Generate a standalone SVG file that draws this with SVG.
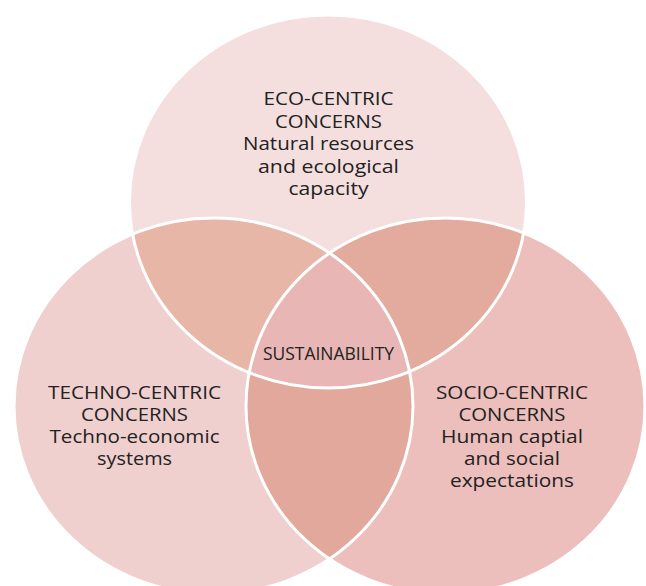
<svg xmlns="http://www.w3.org/2000/svg" width="646" height="586" viewBox="0 0 646 586">
<style>
.lbl{font-family:"Open Sans","Liberation Sans",sans-serif;font-size:19px;fill:#222222;text-anchor:middle}
.edge{fill:none;stroke:#ffffff;stroke-width:3}
</style>
<defs>
<ellipse id="eT" cx="328" cy="201.5" rx="198.5" ry="186.5"/>
<ellipse id="eL" cx="213.5" cy="406" rx="199.5" ry="188"/>
<ellipse id="eR" cx="445.5" cy="406" rx="199.5" ry="188"/>
<clipPath id="cT"><use href="#eT"/></clipPath>
<clipPath id="cL"><use href="#eL"/></clipPath>
</defs>
<rect width="646" height="586" fill="#ffffff"/>
<g id="eco-circle"><use href="#eT" fill="#F4DFDE"/></g>
<g id="techno-circle"><use href="#eL" fill="#EFD0CF"/></g>
<g id="socio-circle"><use href="#eR" fill="#ECBFBC"/></g>
<g id="overlaps">
<use href="#eL" fill="#E7B6A7" clip-path="url(#cT)"/>
<use href="#eR" fill="#E2AB9E" clip-path="url(#cT)"/>
<use href="#eR" fill="#E1A89B" clip-path="url(#cL)"/>
<g clip-path="url(#cT)"><use href="#eR" fill="#E8B6B5" clip-path="url(#cL)"/></g>
</g>
<g id="outlines">
<use href="#eT" class="edge"/>
<use href="#eL" class="edge"/>
<use href="#eR" class="edge"/>
</g>
<g id="eco">
<text class="lbl" x="328.5" y="105" textLength="130" lengthAdjust="spacingAndGlyphs">ECO-CENTRIC</text>
<text class="lbl" x="328.5" y="128" textLength="107" lengthAdjust="spacingAndGlyphs">CONCERNS</text>
<text class="lbl" x="328.5" y="150" textLength="171" lengthAdjust="spacingAndGlyphs">Natural resources</text>
<text class="lbl" x="328.5" y="173" textLength="141" lengthAdjust="spacingAndGlyphs">and ecological</text>
<text class="lbl" x="328.5" y="195" textLength="80" lengthAdjust="spacingAndGlyphs">capacity</text>
</g>
<g id="techno">
<text class="lbl" x="134.5" y="399" textLength="173" lengthAdjust="spacingAndGlyphs">TECHNO-CENTRIC</text>
<text class="lbl" x="134.5" y="421" textLength="107" lengthAdjust="spacingAndGlyphs">CONCERNS</text>
<text class="lbl" x="134.5" y="443" textLength="170" lengthAdjust="spacingAndGlyphs">Techno-economic</text>
<text class="lbl" x="134.5" y="465" textLength="75" lengthAdjust="spacingAndGlyphs">systems</text>
</g>
<g id="socio">
<text class="lbl" x="512" y="399" textLength="152" lengthAdjust="spacingAndGlyphs">SOCIO-CENTRIC</text>
<text class="lbl" x="512" y="421" textLength="107" lengthAdjust="spacingAndGlyphs">CONCERNS</text>
<text class="lbl" x="512" y="443" textLength="142" lengthAdjust="spacingAndGlyphs">Human captial</text>
<text class="lbl" x="512" y="465" textLength="96" lengthAdjust="spacingAndGlyphs">and social</text>
<text class="lbl" x="512" y="487" textLength="124" lengthAdjust="spacingAndGlyphs">expectations</text>
</g>
<g id="sustainability">
<text class="lbl" x="328.5" y="360" textLength="131" lengthAdjust="spacingAndGlyphs">SUSTAINABILITY</text>
</g>
</svg>
